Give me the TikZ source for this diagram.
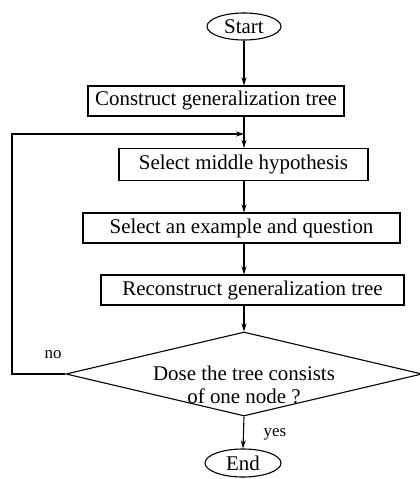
\documentclass[tikz,border=0pt]{standalone}
\usepackage{fontspec}
\setmainfont{Liberation Serif}
\usetikzlibrary{shapes.geometric,arrows.meta}
\begin{document}
\begin{tikzpicture}[x=1bp,y=-1bp,
  every node/.style={font=\fontsize{21}{23}\selectfont, inner sep=0pt},
  procbox/.style={draw, line width=1.1bp, rectangle},
  term/.style={draw, ellipse, line width=1.1bp},
  decision/.style={draw, diamond, line width=1.1bp},
  flow/.style={line width=1.1bp, -{Stealth[length=8bp,width=5bp]}},
  lbl/.style={font=\fontsize{17}{20}\selectfont}]
\useasboundingbox (0,0) rectangle (419,479);
\node[term, minimum width=74bp, minimum height=27bp] (start) at (244,26.5) {Start};
\node[procbox, minimum width=256bp, minimum height=30bp] (b1) at (216,101) {Construct generalization tree};
\node[procbox, minimum width=249bp, minimum height=32bp] (b2) at (243.5,164.5) {Select middle hypothesis};
\node[procbox, minimum width=317bp, minimum height=30bp] (b3) at (241.5,228) {Select an example and question};
\node[procbox, minimum width=303bp, minimum height=30bp] (b4) at (252.5,290) {Reconstruct generalization tree};
\node[decision, minimum width=356bp, minimum height=84bp] (dec) at (244,374) {};
\node[align=center] (dectext) at (244,385) {Dose the tree consists\\of one node ?};
\node[term, minimum width=76bp, minimum height=28bp] (end) at (243,463) {End};
\node[lbl] (no) at (53,355) {no};
\node[lbl] (yes) at (275,434) {yes};
\coordinate (join) at (244,134);
\coordinate (loopx) at (12,134);
\draw[flow] (start.south) -- (start.south |- b1.north);
\draw[flow] (b1.south -| join) -- (b2.north -| join);
\draw[flow] (b2.south -| join) -- (b3.north -| join);
\draw[flow] (b3.south -| join) -- (b4.north -| join);
\draw[flow] (b4.south -| join) -- (dec.north);
\draw[flow] (dec.south) -- (end.north);
\draw[flow] (dec.west) -| (loopx) -- (join);
\end{tikzpicture}
\end{document}
